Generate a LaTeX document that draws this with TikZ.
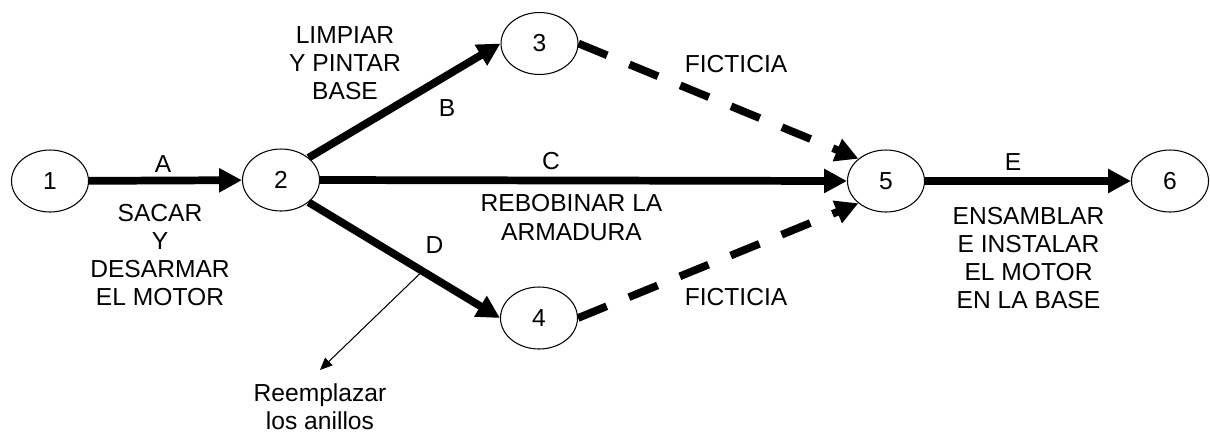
\documentclass[tikz,border=0pt]{standalone}
\usepackage{fontspec}
\setmainfont{Liberation Sans}
\usetikzlibrary{arrows.meta,calc,shapes.geometric}

\begin{document}
\begin{tikzpicture}[x=0.02cm, y=-0.02cm,
  evento/.style={draw, ellipse, line width=0.6pt, minimum width=1.54cm, minimum height=1.24cm, inner sep=0pt, font=\fontsize{14}{16}\selectfont},
  actividad/.style={line width=4.4pt, -{Triangle[length=13pt,width=13pt]}},
  ficticia/.style={actividad, dash pattern=on 0.62cm off 0.48cm},
  texto/.style={font=\fontsize{14}{16}\selectfont, align=center, inner sep=0pt}]
\useasboundingbox (0,0) rectangle (1210,434);

\node[evento] (n1) at (50,181) {1};
\node[evento] (n2) at (281,180) {2};
\node[evento] (n3) at (539.5,43.5) {3};
\node[evento] (n4) at (539,318) {4};
\node[evento] (n5) at (886,181) {5};
\node[evento] (n6) at (1170,181) {6};

\draw[actividad] (n1) -- (n2);
\draw[actividad] (n2.north east) -- (n3.west);
\draw[actividad] (n2.east) -- (n5.west);
\draw[actividad] (n2.south east) -- (n4.west);
\draw[ficticia] (n3.east) -- (n5.north west);
\draw[ficticia] (n4.east) -- (n5.south west);
\draw[actividad] (n5) -- (n6);

\node[texto] (la) at (163,164) {A};
\node[texto] (ta) at (160,255) {SACAR\\Y\\DESARMAR\\EL MOTOR};
\node[texto] (lb) at (447,108) {B};
\node[texto] (tb) at (345,63.5) {LIMPIAR\\Y PINTAR\\BASE};
\node[texto] (lc) at (551,161) {C};
\node[texto] (tc) at (571.5,217.5) {REBOBINAR LA\\ARMADURA};
\node[texto] (ld) at (434.5,245) {D};
\node[texto] (f1) at (736,64.5) {FICTICIA};
\node[texto] (f2) at (736,297.5) {FICTICIA};
\node[texto] (le) at (1013,162) {E};
\node[texto] (te) at (1028.5,258) {ENSAMBLAR\\E INSTALAR\\EL MOTOR\\EN LA BASE};
\node[texto] (tr) at (320,407) {Reemplazar\\los anillos};

\coordinate (dm) at ($(n2.south east)!0.595!(n4.west)$);
\coordinate (rt) at (320,370);
\draw[line width=0.6pt, -{Triangle[length=7pt,width=6pt]}] (dm) -- (rt);
\end{tikzpicture}
\end{document}
